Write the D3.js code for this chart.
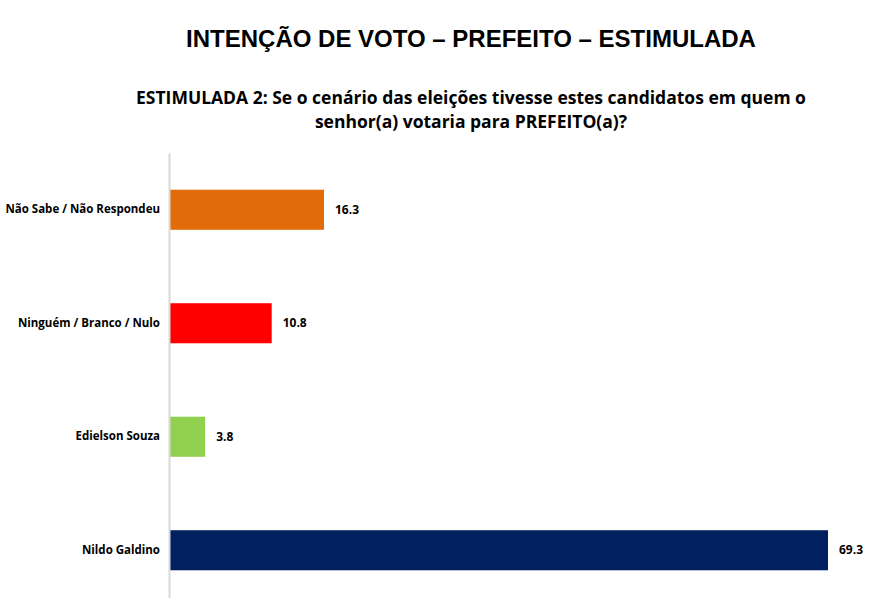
<!DOCTYPE html>
<html>
<head>
	<meta charset="utf-8">
	<script src="https://d3js.org/d3.v7.min.js"></script>
	<title>Intenção de voto</title>
	<style>
		body { margin: 0; background: #fff; }
		text { font-family: "Open Sans", "Noto Sans", sans-serif; }
	</style>
</head>
<body>
	<div id="chart"></div>

	<script type="text/javascript">

		// data, top bar first
		var categories = ["Não Sabe / Não Respondeu", "Ninguém / Branco / Nulo", "Edielson Souza", "Nildo Galdino"];
		var values = [16.3, 10.8, 3.8, 69.3];
		var colors = ["#E36C0A", "#FF0000", "#92D050", "#002060"];

		var title = "INTENÇÃO DE VOTO – PREFEITO – ESTIMULADA";
		var subtitle = ["ESTIMULADA 2: Se o cenário das eleições tivesse estes candidatos em quem o",
		                "senhor(a) votaria para PREFEITO(a)?"];

		var width = 887;
		var height = 598;
		var left = 169;

		var data = categories.map(function(c, i){
			return {name: c, value: values[i], color: colors[i]};
		});

		var svg = d3.select("#chart").append("svg")
			.attr("width", width)
			.attr("height", height);

		var xScale = d3.scaleLinear()
			.domain([0, 69.3])
			.range([left, 828]);

		var yScale = d3.scaleBand()
			.domain(categories)
			.range([153, 607])
			.paddingInner(0.647)
			.paddingOuter(0.3235);

		// titles
		svg.append("text")
			.attr("x", 471)
			.attr("y", 47)
			.attr("text-anchor", "middle")
			.style("font-family", "'Liberation Sans', Arial, sans-serif")
			.style("font-weight", "bold")
			.style("font-size", "24px")
			.attr("fill", "#000")
			.text(title);

		svg.selectAll(".sub")
			.data(subtitle).enter().append("text")
			.attr("class", "sub")
			.attr("x", 471)
			.attr("y", function(d, i){ return 104 + i*24; })
			.attr("text-anchor", "middle")
			.style("font-weight", "bold")
			.style("font-size", "17.5px")
			.attr("fill", "#000")
			.text(function(d){ return d; });

		// bars
		svg.selectAll(".bar")
			.data(data).enter().append("rect")
			.attr("class", "bar")
			.attr("x", xScale(0))
			.attr("y", function(d){ return yScale(d.name); })
			.attr("width", function(d){ return xScale(d.value) - xScale(0); })
			.attr("height", yScale.bandwidth())
			.attr("fill", function(d){ return d.color; });

		// category axis
		var yAxis = d3.axisLeft(yScale).tickSize(0).tickPadding(9);
		var gy = svg.append("g")
			.attr("transform", "translate(" + left + ",0)")
			.call(yAxis);
		gy.select(".domain")
			.attr("stroke", "#d9d9d9")
			.attr("stroke-width", 2);
		gy.selectAll("text")
			.style("font-family", "'Open Sans', sans-serif")
			.style("font-weight", "bold")
			.style("font-size", "11.5px")
			.attr("fill", "#000");

		// value labels
		svg.selectAll(".val")
			.data(data).enter().append("text")
			.attr("class", "val")
			.attr("x", function(d){ return xScale(d.value) + 11; })
			.attr("y", function(d){ return yScale(d.name) + yScale.bandwidth()/2; })
			.attr("dy", "0.35em")
			.style("font-weight", "bold")
			.style("font-size", "12px")
			.attr("fill", "#000")
			.text(function(d){ return d.value.toFixed(1); });

	</script>
</body>
</html>
